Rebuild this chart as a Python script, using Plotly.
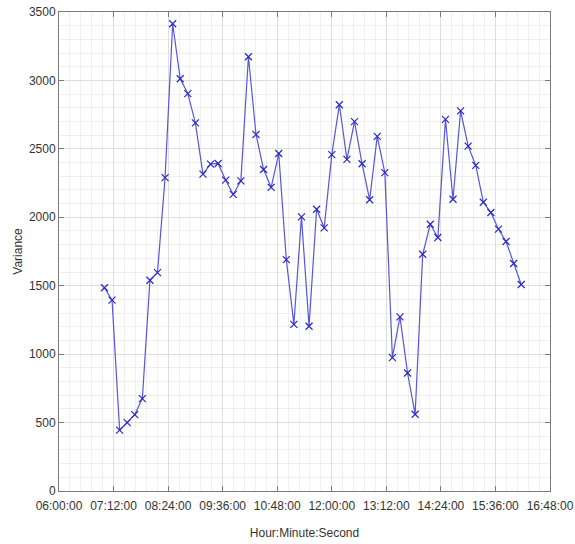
import plotly.graph_objects as go
import pandas as pd

times = ["07:00:00","07:10:00","07:20:00","07:30:00","07:40:00","07:50:00","08:00:00","08:10:00",
         "08:20:00","08:30:00","08:40:00","08:50:00","09:00:00","09:10:00","09:20:00","09:30:00",
         "09:40:00","09:50:00","10:00:00","10:10:00","10:20:00","10:30:00","10:40:00","10:50:00",
         "11:00:00","11:10:00","11:20:00","11:30:00","11:40:00","11:50:00","12:00:00","12:10:00",
         "12:20:00","12:30:00","12:40:00","12:50:00","13:00:00","13:10:00","13:20:00","13:30:00",
         "13:40:00","13:50:00","14:00:00","14:10:00","14:20:00","14:30:00","14:40:00","14:50:00",
         "15:00:00","15:10:00","15:20:00","15:30:00","15:40:00","15:50:00","16:00:00","16:10:00"]
variance = [1485, 1395, 445, 500, 558, 675, 1540, 1596,
            2290, 3414, 3012, 2903, 2690, 2315, 2388, 2393,
            2271, 2167, 2266, 3173, 2605, 2349, 2218, 2466,
            1691, 1218, 2003, 1204, 2059, 1923, 2458, 2822,
            2423, 2699, 2391, 2128, 2591, 2326, 975, 1272,
            862, 561, 1730, 1949, 1852, 2715, 2132, 2778,
            2520, 2379, 2110, 2035, 1913, 1823, 1662, 1509]
x_ticks = ["06:00:00","07:12:00","08:24:00","09:36:00","10:48:00","12:00:00",
           "13:12:00","14:24:00","15:36:00","16:48:00"]

day = "2000-01-01 "
xs = pd.to_datetime([day + t for t in times])
tickvals = pd.to_datetime([day + t for t in x_ticks])

fig = go.Figure()
fig.add_trace(go.Scatter(
    x=xs, y=variance, mode="lines+markers",
    line=dict(color="rgb(85,85,225)", width=1.2),
    marker=dict(symbol="x-thin", size=7, line=dict(color="rgb(40,40,200)", width=1.2)),
    showlegend=False,
))

axis_common = dict(
    showline=True, linecolor="#7a7a7a", linewidth=1, mirror="ticks",
    ticks="inside", ticklen=5, tickcolor="#7a7a7a",
    gridcolor="#dedede", gridwidth=1, zeroline=False, ticklabeloverflow="allow",
    tickfont=dict(family="Liberation Sans, Arial, sans-serif", size=12, color="#333333"),
)

fig.update_xaxes(
    type="date", range=[tickvals[0], tickvals[-1]],
    tickvals=tickvals, ticktext=x_ticks, ticklabelstandoff=4,
    minor=dict(dtick=864000, tick0=tickvals[0], showgrid=True, gridcolor="#efefef", ticks=""),
    title=dict(text="Hour:Minute:Second", standoff=16,
               font=dict(family="Liberation Sans, Arial, sans-serif", size=12, color="#333333")),
    **axis_common,
)
fig.update_yaxes(
    range=[0, 3500], dtick=500, tick0=0,
    minor=dict(dtick=100, showgrid=True, gridcolor="#efefef", ticks=""),
    title=dict(text="Variance", standoff=3,
               font=dict(family="Liberation Sans, Arial, sans-serif", size=12, color="#333333")),
    **axis_common,
)

fig.update_layout(
    width=575, height=544,
    margin=dict(l=59, r=25, t=12, b=53, autoexpand=False),
    paper_bgcolor="white", plot_bgcolor="white",
)

fig.write_html("out.html", config={"displayModeBar": False},
               post_script="document.body.style.margin='0';document.body.style.overflow='hidden';")
